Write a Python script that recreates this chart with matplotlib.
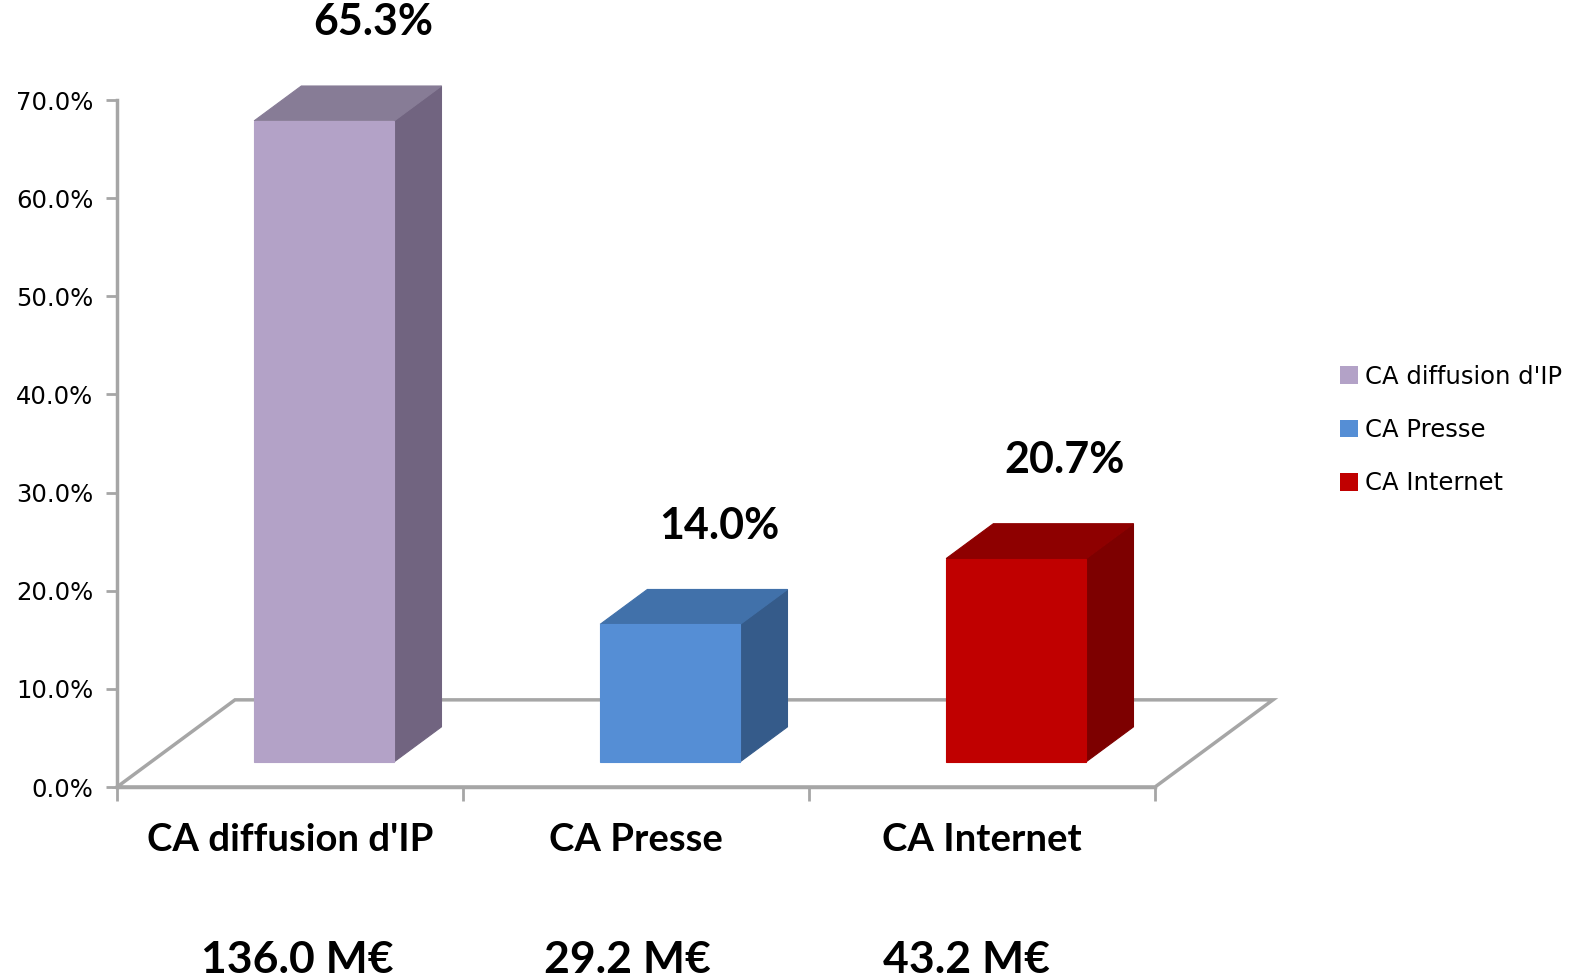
import matplotlib
matplotlib.use("Agg")
import matplotlib.pyplot as plt
from matplotlib.patches import Polygon
from matplotlib.transforms import blended_transform_factory

categories = ["CA diffusion d'IP", "CA Presse", "CA Internet"]
shares = [65.3, 14.0, 20.7]          # en %
amounts = ["136.0 M€", "29.2 M€", "43.2 M€"]
yticks = [0, 10, 20, 30, 40, 50, 60, 70]

front_colors = ["#B3A2C7", "#558ED5", "#C00000"]
top_colors = ["#877C96", "#4171AA", "#8E0000"]
side_colors = ["#716480", "#355B8A", "#7D0000"]

GRAY = "#A6A6A6"
# projection de la profondeur (pseudo 3D), en unites de donnees
DEPTH_X = 0.341
DEPTH_Y = 8.88
BAR_W = 0.405
D_FRONT = 0.29
D_BACK = 0.69

fig = plt.figure(figsize=(15.7, 9.8), dpi=100)
ax = fig.add_axes([117 / 1570, 193 / 980, 1038 / 1570, 687 / 980])
ax.set_xlim(0, 3)
ax.set_ylim(0, 70)

# sol
floor = [(0, 0), (3, 0), (3 + DEPTH_X, DEPTH_Y), (DEPTH_X, DEPTH_Y)]
ax.add_patch(Polygon(floor, closed=True, fill=False, edgecolor=GRAY,
                     linewidth=2.5, clip_on=False, zorder=1))


def proj(x, y, d):
    return (x + d * DEPTH_X, y + d * DEPTH_Y)


for i, v in enumerate(shares):
    x0 = i + 0.5 - BAR_W / 2
    x1 = i + 0.5 + BAR_W / 2
    front = [proj(x0, 0, D_FRONT), proj(x1, 0, D_FRONT),
             proj(x1, v, D_FRONT), proj(x0, v, D_FRONT)]
    side = [proj(x1, 0, D_FRONT), proj(x1, 0, D_BACK),
            proj(x1, v, D_BACK), proj(x1, v, D_FRONT)]
    top = [proj(x0, v, D_FRONT), proj(x1, v, D_FRONT),
           proj(x1, v, D_BACK), proj(x0, v, D_BACK)]
    for pts, c in [(side, side_colors[i]), (top, top_colors[i]), (front, front_colors[i])]:
        ax.add_patch(Polygon(pts, closed=True, facecolor=c, edgecolor=c,
                             linewidth=0.8, clip_on=False, zorder=3))
    ax.text(i + 0.74, v + 12.6, f"{v:.1f}%", ha="center", va="center",
            fontsize=31, fontweight="bold", family="Lato", zorder=4)

# axes
for s in ["top", "right"]:
    ax.spines[s].set_visible(False)
for s in ["left", "bottom"]:
    ax.spines[s].set_color(GRAY)
    ax.spines[s].set_linewidth(2.5)
ax.set_yticks(yticks)
ax.set_yticklabels([f"{t:.1f}%" for t in yticks], fontsize=17.5)
ax.set_xticks([0, 1, 2, 3])
ax.set_xticklabels([])
ax.tick_params(axis="y", length=8, width=2, color=GRAY, pad=9)
ax.tick_params(axis="x", length=10, width=2, color=GRAY)
ax.patch.set_visible(False)

trans = blended_transform_factory(ax.transData, fig.transFigure)
amount_shift = [0.02, -0.025, -0.045]
for i, name in enumerate(categories):
    ax.text(i + 0.5, 140 / 980, name, transform=trans, ha="center", va="center",
            fontsize=27.5, fontweight="bold", family="Lato")
    ax.text(i + 0.5 + amount_shift[i], 20 / 980, amounts[i], transform=trans,
            ha="center", va="center", fontsize=32, fontweight="bold", family="Lato")

# legende
handles = [plt.Rectangle((0, 0), 1, 1, facecolor=c) for c in front_colors]
fig.legend(handles, categories, loc="center left", bbox_to_anchor=(1330 / 1570, 550 / 980),
           frameon=False, fontsize=17.5, handlelength=0.75, handleheight=0.75,
           handletextpad=0.3, labelspacing=1.2, borderaxespad=0)

fig.savefig("out.png", dpi=100)
